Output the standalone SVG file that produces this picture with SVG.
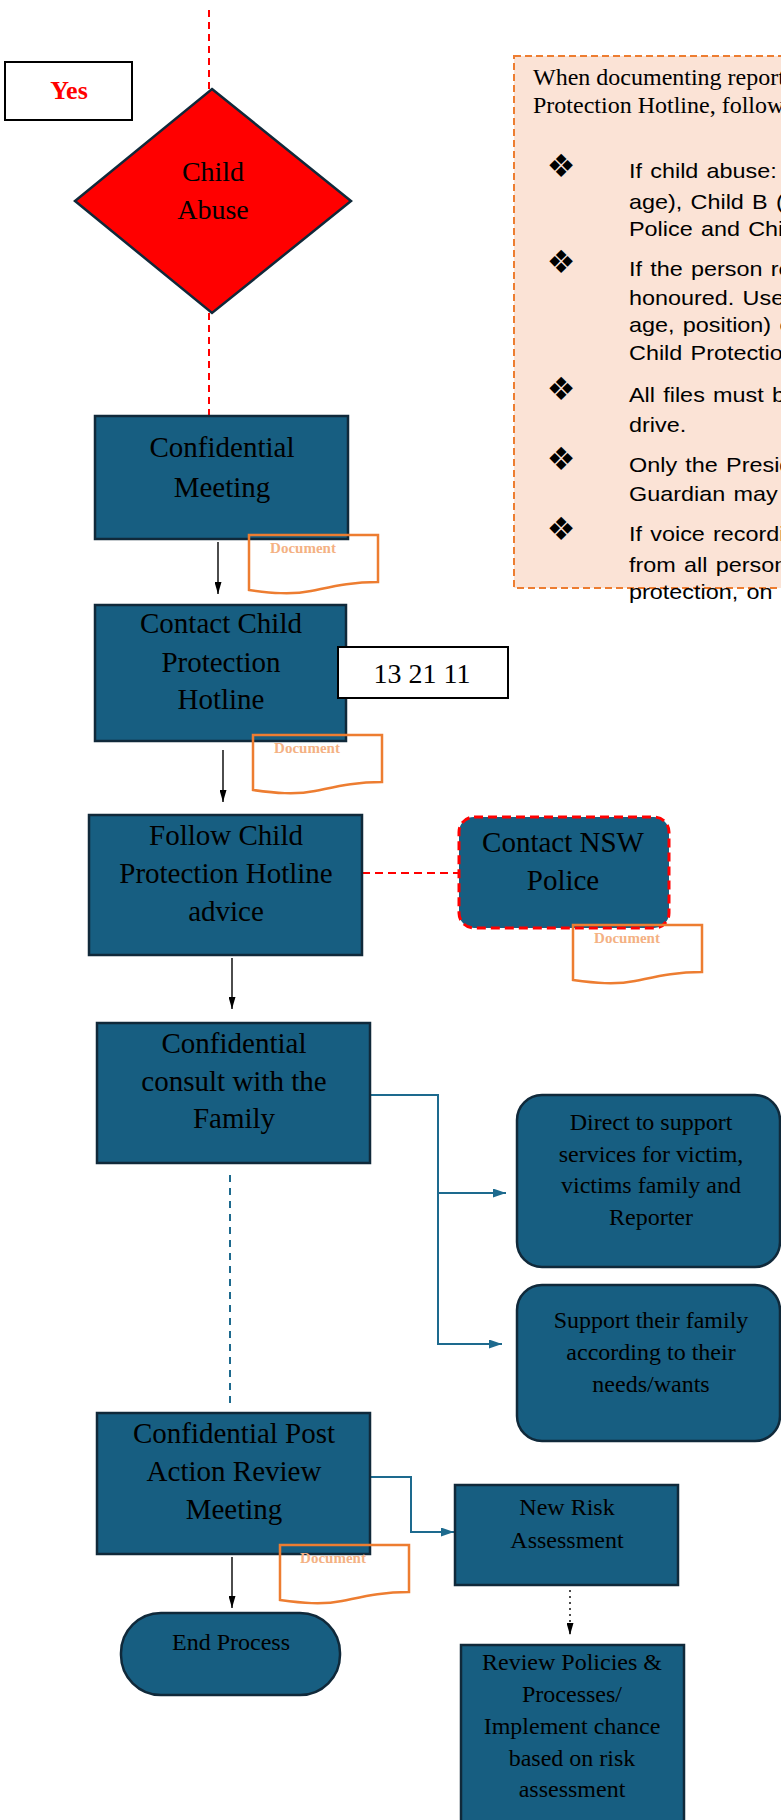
<svg xmlns="http://www.w3.org/2000/svg" width="781" height="1820" viewBox="0 0 781 1820">
<style>
.box{fill:#175E81;stroke:#10293A;stroke-width:2.5}
.t{font-family:"Liberation Serif","Times New Roman",serif;fill:#000;text-anchor:middle}
.t29{font-size:29px}
.t24{font-size:24px}
.doc{fill:none;stroke:#ED7D31;stroke-width:2.5}
.dt{font-family:"Liberation Serif","Times New Roman",serif;font-weight:bold;font-size:15px;fill:#F4B183;text-anchor:middle}
.blk{stroke:#000;stroke-width:1.4;fill:none}
.blue{stroke:#1D6A8E;stroke-width:2;fill:none}
.red{stroke:#FF0000;stroke-width:2;fill:none;stroke-dasharray:7 5}
.pt{font-family:"Liberation Serif","Times New Roman",serif;font-size:24px;fill:#000}
.bt{font-family:"Liberation Sans",Arial,sans-serif;font-size:20px;fill:#000;word-spacing:1.5px}
.bul{font-family:"DejaVu Sans",sans-serif;font-size:32px;fill:#000;text-anchor:middle}
</style>
<defs>
<marker id="ab" viewBox="0 0 12 7" refX="12" refY="3.5" markerWidth="12" markerHeight="7" markerUnits="userSpaceOnUse" orient="auto"><path d="M0,0 L12,3.5 L0,7 Z" fill="#000"/></marker>
<marker id="au" viewBox="0 0 13 9" refX="13" refY="4.5" markerWidth="13" markerHeight="9" markerUnits="userSpaceOnUse" orient="auto"><path d="M0,0 L13,4.5 L0,9 Z" fill="#1D6A8E"/></marker>
<path id="docp" d="M0,0 H129 V47 C100,47 82,52 62,56 C42,60 22,58 0,55 Z"/>
</defs>

<g id="connectors">
<line class="red" x1="209" y1="10" x2="209" y2="89"/>
<line class="red" x1="209" y1="313" x2="209" y2="415"/>
<line class="blk" x1="218" y1="542" x2="218" y2="594" marker-end="url(#ab)"/>
<line class="blk" x1="223" y1="750" x2="223" y2="802" marker-end="url(#ab)"/>
<line class="red" x1="362" y1="873" x2="459" y2="873" style="stroke-dasharray:8 5"/>
<line class="blk" x1="232" y1="958" x2="232" y2="1009" marker-end="url(#ab)"/>
<path class="blue" d="M370,1095 H438 V1344 H502" marker-end="url(#au)"/>
<path class="blue" d="M438,1193 H506" marker-end="url(#au)"/>
<line class="blue" x1="230" y1="1175" x2="230" y2="1405" style="stroke-dasharray:7 6"/>
<path class="blue" d="M370,1477 H411 V1532 H454" marker-end="url(#au)"/>
<line class="blk" x1="232" y1="1557" x2="232" y2="1608" marker-end="url(#ab)"/>
<line class="blk" x1="570" y1="1590" x2="570" y2="1635" style="stroke-dasharray:2 4" marker-end="url(#ab)"/>
</g>

<g id="yes">
<rect x="5" y="62" width="127" height="58" fill="#fff" stroke="#000" stroke-width="2"/>
<text x="69" y="99" font-family="Liberation Serif,serif" font-weight="bold" font-size="26" fill="#FF0000" text-anchor="middle">Yes</text>
</g>

<g id="child-abuse">
<polygon points="212,89 351,201 212,313 75,201" fill="#FF0000" stroke="#10293A" stroke-width="2.5"/>
<text class="t" font-size="28" x="213" y="181">Child</text>
<text class="t" font-size="28" x="213" y="219">Abuse</text>
</g>

<g id="note">
<rect x="514" y="56" width="300" height="532" fill="#FBE3D6" stroke="#ED7D31" stroke-width="2" stroke-dasharray="7 4"/>
<text class="pt" x="533" y="85">When documenting report</text>
<text class="pt" x="533" y="113">Protection Hotline, follow</text>
<text class="bul" x="561" y="177">❖</text>
<text class="bul" x="561" y="273">❖</text>
<text class="bul" x="561" y="400">❖</text>
<text class="bul" x="561" y="470">❖</text>
<text class="bul" x="561" y="540">❖</text>
<g transform="translate(629,0) scale(1.17,1)">
<text class="bt" x="0" y="178">If child abuse: Child A</text>
<text class="bt" x="0" y="209">age), Child B (</text>
<text class="bt" x="0" y="236">Police and Child</text>
<text class="bt" x="0" y="276">If the person rep</text>
<text class="bt" x="0" y="305">honoured. Use</text>
<text class="bt" x="0" y="332">age, position) o</text>
<text class="bt" x="0" y="360">Child Protection</text>
<text class="bt" x="0" y="402">All files must be</text>
<text class="bt" x="0" y="432">drive.</text>
<text class="bt" x="0" y="472">Only the Presid</text>
<text class="bt" x="0" y="501">Guardian may</text>
<text class="bt" x="0" y="541">If voice recordin</text>
<text class="bt" x="0" y="572">from all person</text>
<text class="bt" x="0" y="599">protection, on</text>
</g>
</g>

<g id="confidential-meeting">
<rect class="box" x="95" y="416" width="253" height="123"/>
<text class="t t29" x="222" y="457">Confidential</text>
<text class="t t29" x="222" y="497">Meeting</text>
</g>
<g id="doc1"><use href="#docp" class="doc" x="249" y="535"/><text class="dt" x="303" y="553">Document</text></g>

<g id="contact-hotline">
<rect class="box" x="95" y="605" width="251" height="136"/>
<text class="t t29" x="221" y="633">Contact Child</text>
<text class="t t29" x="221" y="672">Protection</text>
<text class="t t29" x="221" y="709">Hotline</text>
</g>
<g id="phone">
<rect x="338" y="647" width="170" height="51" fill="#fff" stroke="#000" stroke-width="2"/>
<text class="t" font-size="28" x="422" y="683">13 21 11</text>
</g>
<g id="doc2"><use href="#docp" class="doc" x="253" y="735"/><text class="dt" x="307" y="753">Document</text></g>

<g id="follow-advice">
<rect class="box" x="89" y="815" width="273" height="140"/>
<text class="t t29" x="226" y="845">Follow Child</text>
<text class="t t29" x="226" y="883">Protection Hotline</text>
<text class="t t29" x="226" y="921">advice</text>
</g>
<g id="contact-police">
<rect x="459" y="817" width="210" height="111" rx="15" fill="#175E81" stroke="#FF0000" stroke-width="3" stroke-dasharray="9 5"/>
<text class="t t29" x="563" y="852">Contact NSW</text>
<text class="t t29" x="563" y="890">Police</text>
</g>
<g id="doc3"><use href="#docp" class="doc" x="573" y="925"/><text class="dt" x="627" y="943">Document</text></g>

<g id="consult-family">
<rect class="box" x="97" y="1023" width="273" height="140"/>
<text class="t t29" x="234" y="1053">Confidential</text>
<text class="t t29" x="234" y="1091">consult with the</text>
<text class="t t29" x="234" y="1128">Family</text>
</g>
<g id="direct-support">
<rect class="box" x="517" y="1095" width="263" height="172" rx="25"/>
<text class="t t24" x="651" y="1130">Direct to support</text>
<text class="t t24" x="651" y="1162">services for victim,</text>
<text class="t t24" x="651" y="1193">victims family and</text>
<text class="t t24" x="651" y="1225">Reporter</text>
</g>
<g id="support-family">
<rect class="box" x="517" y="1285" width="263" height="156" rx="25"/>
<text class="t t24" x="651" y="1328">Support their family</text>
<text class="t t24" x="651" y="1360">according to their</text>
<text class="t t24" x="651" y="1392">needs/wants</text>
</g>

<g id="post-review">
<rect class="box" x="97" y="1413" width="273" height="141"/>
<text class="t t29" x="234" y="1443">Confidential Post</text>
<text class="t t29" x="234" y="1481">Action Review</text>
<text class="t t29" x="234" y="1519">Meeting</text>
</g>
<g id="doc4"><use href="#docp" class="doc" x="280" y="1545"/><text class="dt" x="333" y="1563">Document</text></g>

<g id="new-risk">
<rect class="box" x="455" y="1485" width="223" height="100"/>
<text class="t t24" x="567" y="1515">New Risk</text>
<text class="t t24" x="567" y="1548">Assessment</text>
</g>
<g id="end-process">
<rect class="box" x="121" y="1613" width="219" height="82" rx="40"/>
<text class="t t24" x="231" y="1650">End Process</text>
</g>
<g id="review-policies">
<rect class="box" x="461" y="1645" width="223" height="190"/>
<text class="t t24" x="572" y="1670">Review Policies &amp;</text>
<text class="t t24" x="572" y="1702">Processes/</text>
<text class="t t24" x="572" y="1734">Implement chance</text>
<text class="t t24" x="572" y="1766">based on risk</text>
<text class="t t24" x="572" y="1797">assessment</text>
</g>
</svg>
